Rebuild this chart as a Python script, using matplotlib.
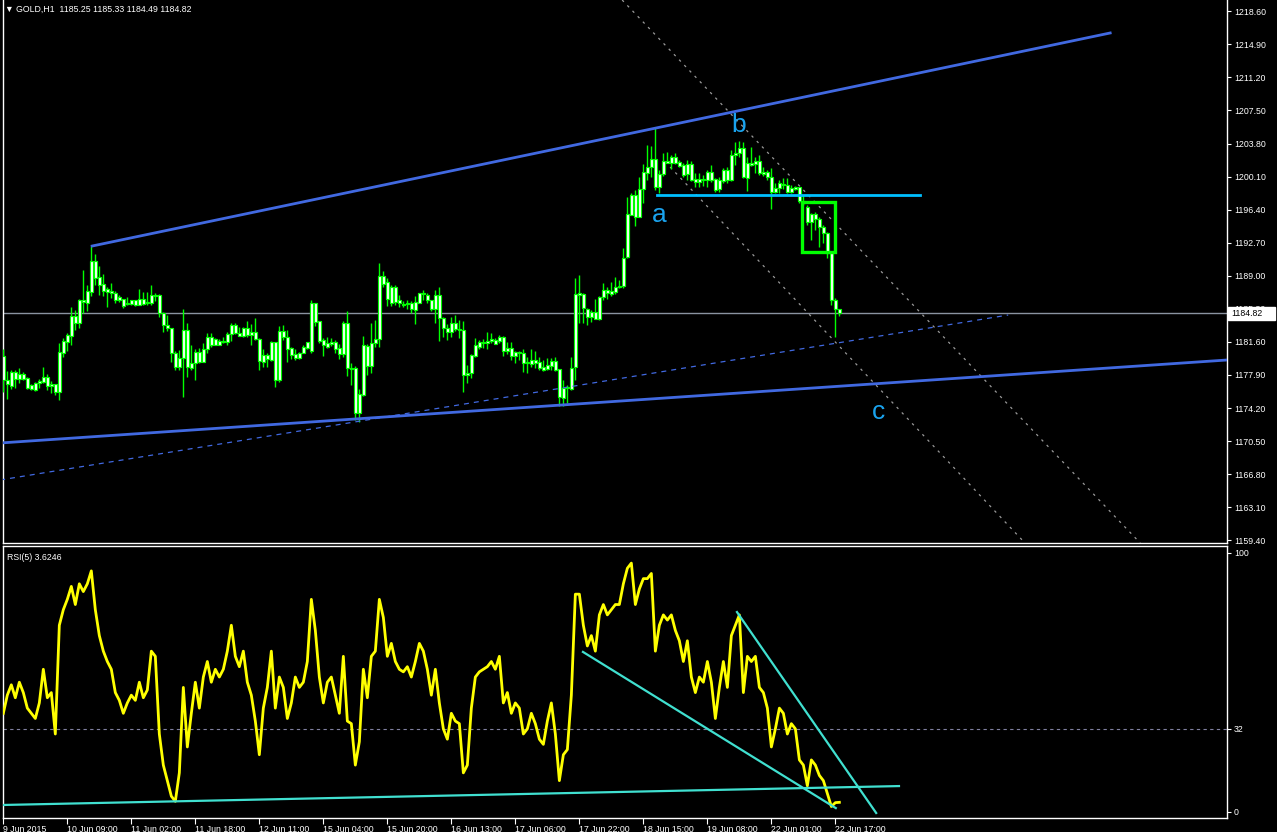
import numpy as np
import matplotlib
matplotlib.use("Agg")
import matplotlib.pyplot as plt
from matplotlib.patches import Rectangle
import matplotlib.transforms as mtransforms

plt.rcParams['font.family'] = ['Liberation Sans', 'DejaVu Sans']

# ---------------- data ----------------
opens = [
1180.02, 1177.34, 1176.67, 1178.23, 1177.45, 1178.01, 1177.56, 1176.33, 1177.00, 1177.00,
1177.12, 1177.68, 1176.67, 1176.89, 1176.00, 1180.36, 1181.59, 1182.26, 1184.50, 1183.71,
1186.29, 1185.95, 1187.18, 1190.66, 1188.87, 1188.08, 1187.52, 1187.30, 1187.07, 1186.29,
1186.40, 1185.84, 1185.84, 1186.29, 1185.73, 1186.40, 1185.95, 1185.95, 1186.85, 1186.85,
1184.83, 1183.49, 1183.15, 1180.36, 1178.79, 1179.80, 1182.93, 1178.68, 1179.24, 1180.47,
1179.35, 1180.80, 1182.15, 1181.25, 1181.70, 1181.59, 1181.59, 1182.49, 1183.49, 1182.60,
1182.26, 1183.15, 1182.37, 1182.71, 1181.92, 1179.35, 1180.13, 1179.58, 1181.59, 1177.34,
1182.82, 1182.15, 1180.92, 1180.24, 1179.80, 1180.36, 1180.92, 1180.58, 1185.95, 1183.94,
1181.81, 1181.03, 1181.36, 1181.59, 1180.92, 1180.24, 1183.71, 1178.68, 1178.68, 1173.64,
1175.66, 1181.14, 1178.91, 1181.48, 1181.92, 1188.98, 1188.30, 1185.95, 1187.75, 1186.29,
1185.84, 1185.84, 1185.95, 1185.17, 1185.95, 1187.07, 1186.85, 1186.29, 1185.28, 1186.85,
1184.27, 1183.15, 1182.71, 1183.71, 1183.04, 1182.93, 1177.90, 1178.12, 1180.02, 1181.03,
1181.48, 1181.48, 1181.70, 1181.81, 1181.70, 1182.15, 1180.58, 1180.92, 1180.02, 1180.47,
1180.36, 1179.24, 1179.13, 1179.58, 1179.35, 1178.79, 1178.57, 1178.91, 1179.46, 1178.57,
1175.33, 1176.44, 1176.33, 1178.79, 1187.07, 1186.96, 1185.28, 1184.38, 1184.94, 1184.16,
1186.63, 1187.41, 1186.96, 1187.18, 1187.75, 1187.86, 1191.10, 1195.80, 1198.04, 1195.58,
1198.71, 1200.50, 1201.17, 1202.07, 1198.93, 1200.39, 1201.84, 1201.62, 1202.29, 1201.73,
1201.40, 1200.39, 1201.51, 1199.83, 1199.49, 1199.83, 1199.72, 1200.61, 1199.83, 1198.71,
1199.61, 1200.84, 1199.72, 1202.52, 1202.74, 1203.30, 1199.94, 1201.62, 1201.51, 1201.84,
1200.61, 1200.61, 1200.05, 1198.37, 1198.82, 1199.27, 1199.16, 1198.37, 1198.93, 1198.93,
1197.37, 1196.70, 1195.02, 1195.91, 1195.35, 1194.46, 1193.79, 1191.55, 1186.29, 1185.25,
]
highs = [
1180.80, 1178.35, 1178.46, 1178.46, 1178.68, 1178.23, 1177.68, 1176.89, 1177.12, 1177.45,
1178.79, 1178.01, 1177.23, 1176.89, 1181.48, 1182.04, 1182.60, 1185.51, 1185.17, 1186.40,
1189.65, 1187.97, 1192.33, 1191.43, 1190.10, 1189.20, 1187.75, 1188.19, 1187.30, 1186.85,
1186.40, 1186.63, 1186.29, 1186.29, 1187.52, 1187.18, 1187.18, 1187.97, 1187.07, 1186.96,
1184.94, 1184.61, 1183.15, 1180.58, 1180.69, 1185.28, 1183.71, 1181.25, 1180.80, 1180.92,
1181.48, 1182.60, 1182.60, 1182.04, 1181.92, 1182.15, 1182.71, 1183.71, 1183.71, 1183.27,
1183.27, 1183.94, 1183.60, 1184.27, 1182.04, 1180.80, 1180.36, 1181.70, 1181.59, 1183.38,
1183.49, 1182.93, 1181.03, 1180.80, 1180.47, 1181.25, 1181.59, 1186.29, 1185.95, 1183.94,
1182.04, 1182.15, 1182.04, 1181.81, 1181.36, 1183.94, 1185.06, 1179.24, 1178.91, 1176.33,
1182.26, 1181.36, 1183.71, 1184.05, 1190.43, 1189.54, 1188.75, 1187.97, 1187.97, 1186.85,
1186.18, 1186.29, 1186.18, 1186.74, 1187.07, 1187.41, 1187.07, 1186.29, 1187.41, 1187.75,
1184.38, 1183.60, 1184.38, 1184.61, 1184.05, 1183.94, 1179.02, 1180.24, 1182.04, 1181.81,
1181.92, 1182.71, 1182.60, 1182.04, 1182.37, 1182.26, 1181.59, 1181.59, 1180.58, 1180.58,
1180.80, 1179.91, 1180.80, 1180.58, 1179.91, 1179.58, 1179.80, 1179.80, 1179.91, 1178.57,
1177.34, 1176.78, 1179.91, 1188.75, 1189.09, 1187.07, 1185.39, 1185.17, 1186.40, 1186.74,
1188.19, 1187.75, 1188.30, 1188.87, 1188.53, 1192.11, 1197.81, 1198.26, 1198.60, 1200.05,
1201.51, 1203.63, 1203.52, 1205.54, 1200.84, 1202.74, 1202.85, 1202.52, 1202.74, 1201.96,
1201.62, 1201.96, 1201.84, 1200.50, 1200.50, 1200.28, 1200.84, 1201.40, 1199.94, 1200.05,
1201.06, 1201.17, 1203.07, 1203.97, 1204.08, 1203.97, 1202.29, 1203.41, 1202.29, 1202.52,
1201.17, 1200.84, 1201.06, 1199.38, 1199.72, 1199.94, 1199.94, 1199.16, 1199.05, 1198.93,
1198.04, 1196.92, 1196.02, 1196.14, 1195.58, 1194.68, 1193.90, 1191.55, 1186.51, 1185.33,
]
lows = [
1176.00, 1175.21, 1176.33, 1176.44, 1177.00, 1177.34, 1176.33, 1176.22, 1176.11, 1176.44,
1177.00, 1176.22, 1175.88, 1175.66, 1175.10, 1179.91, 1180.58, 1181.25, 1182.93, 1183.15,
1184.83, 1185.06, 1186.74, 1187.97, 1186.85, 1186.74, 1185.51, 1186.51, 1185.95, 1186.06,
1185.39, 1185.73, 1185.73, 1185.62, 1185.73, 1185.73, 1185.73, 1185.73, 1186.18, 1184.38,
1182.71, 1182.82, 1179.35, 1178.46, 1178.46, 1175.44, 1177.68, 1178.46, 1177.34, 1179.24,
1179.35, 1180.36, 1181.03, 1181.25, 1181.25, 1181.48, 1181.25, 1181.70, 1182.49, 1182.26,
1182.15, 1182.15, 1181.25, 1181.81, 1178.46, 1178.79, 1178.79, 1179.46, 1176.56, 1177.12,
1181.81, 1179.35, 1179.69, 1179.58, 1179.69, 1180.36, 1180.80, 1180.36, 1183.38, 1181.48,
1180.02, 1180.92, 1181.14, 1180.36, 1179.69, 1179.91, 1177.79, 1176.78, 1172.86, 1172.64,
1175.55, 1177.90, 1178.12, 1181.03, 1181.03, 1187.75, 1185.62, 1185.62, 1185.73, 1185.51,
1185.51, 1185.28, 1184.83, 1183.60, 1185.95, 1186.29, 1185.95, 1185.06, 1183.71, 1181.70,
1182.15, 1181.81, 1182.15, 1182.82, 1182.04, 1176.00, 1177.00, 1177.56, 1179.91, 1180.80,
1180.92, 1180.80, 1181.48, 1181.36, 1181.48, 1180.02, 1180.24, 1179.58, 1179.24, 1179.58,
1178.23, 1178.12, 1178.79, 1178.68, 1178.46, 1178.35, 1178.46, 1178.46, 1178.35, 1174.43,
1174.43, 1174.76, 1176.22, 1177.34, 1183.71, 1183.71, 1183.49, 1183.82, 1184.16, 1184.05,
1186.29, 1186.40, 1186.74, 1186.96, 1187.63, 1187.63, 1190.99, 1195.80, 1194.57, 1195.58,
1197.14, 1199.72, 1200.05, 1198.60, 1198.26, 1200.17, 1201.62, 1200.95, 1201.51, 1201.17,
1200.05, 1199.72, 1199.61, 1198.93, 1198.93, 1199.05, 1198.93, 1199.49, 1198.37, 1198.37,
1199.38, 1199.38, 1199.61, 1201.40, 1202.29, 1199.94, 1198.49, 1201.28, 1200.50, 1200.28,
1200.17, 1199.72, 1196.47, 1198.26, 1198.26, 1198.71, 1198.26, 1198.26, 1198.60, 1197.14,
1196.92, 1194.68, 1193.00, 1194.12, 1192.22, 1192.67, 1190.99, 1185.73, 1182.15, 1184.49,
]
closes = [
1177.34, 1176.89, 1178.23, 1177.45, 1178.01, 1177.45, 1176.44, 1176.78, 1176.22, 1177.23,
1177.68, 1176.67, 1176.89, 1176.00, 1180.47, 1181.70, 1182.37, 1184.50, 1183.71, 1186.29,
1186.06, 1187.30, 1190.66, 1188.75, 1187.97, 1187.30, 1187.18, 1187.07, 1186.29, 1186.63,
1185.62, 1185.95, 1186.29, 1185.73, 1186.40, 1185.84, 1186.06, 1186.85, 1186.74, 1184.83,
1183.49, 1183.15, 1180.36, 1178.79, 1179.80, 1182.93, 1178.79, 1179.24, 1180.47, 1179.35,
1180.80, 1182.15, 1181.25, 1181.92, 1181.25, 1181.70, 1182.49, 1183.49, 1182.60, 1182.26,
1183.15, 1182.37, 1182.71, 1181.92, 1179.46, 1180.13, 1179.69, 1181.59, 1177.34, 1182.82,
1182.15, 1180.80, 1180.13, 1179.80, 1180.36, 1181.03, 1181.59, 1185.95, 1183.82, 1181.70,
1181.25, 1181.48, 1181.59, 1180.80, 1180.24, 1183.71, 1178.68, 1178.57, 1173.64, 1175.77,
1181.25, 1178.91, 1181.48, 1181.92, 1188.98, 1188.08, 1186.40, 1187.75, 1186.06, 1185.95,
1185.73, 1185.95, 1185.28, 1186.06, 1187.07, 1186.96, 1186.29, 1185.28, 1186.85, 1184.27,
1183.15, 1182.71, 1183.71, 1183.04, 1182.93, 1177.90, 1178.12, 1180.13, 1181.25, 1181.59,
1181.59, 1181.70, 1181.92, 1181.36, 1182.15, 1180.58, 1180.92, 1180.02, 1180.47, 1180.36,
1179.24, 1179.35, 1179.58, 1179.24, 1178.68, 1178.46, 1179.02, 1179.46, 1178.46, 1175.44,
1176.44, 1176.56, 1178.68, 1186.96, 1186.85, 1185.39, 1184.38, 1184.94, 1184.16, 1186.63,
1187.41, 1187.07, 1187.30, 1187.75, 1187.86, 1190.99, 1195.91, 1198.04, 1195.58, 1198.71,
1200.61, 1201.17, 1202.07, 1198.93, 1200.39, 1201.84, 1201.62, 1202.29, 1201.62, 1201.28,
1200.28, 1201.51, 1199.72, 1199.49, 1199.83, 1199.72, 1200.61, 1199.72, 1198.60, 1199.72,
1200.84, 1199.72, 1202.52, 1202.74, 1203.30, 1200.05, 1201.62, 1201.40, 1201.84, 1200.50,
1200.39, 1200.05, 1198.37, 1198.82, 1199.38, 1199.16, 1198.37, 1198.82, 1198.71, 1197.37,
1197.14, 1195.02, 1195.91, 1195.35, 1194.46, 1193.79, 1191.55, 1186.29, 1185.28, 1184.82,
]
rsi = [
38, 45, 49, 44, 50, 46, 40, 38, 36, 42,
55, 44, 46, 30, 72, 78, 82, 87, 80, 88,
85, 88, 93, 78, 68, 62, 58, 55, 46, 43,
38, 42, 45, 43, 50, 44, 47, 62, 60, 30,
18, 12, 6, 4, 15, 48, 25, 38, 50, 40,
52, 58, 50, 55, 52, 55, 62, 72, 60, 56,
62, 50, 45, 35, 22, 40, 48, 62, 40, 52,
48, 36, 42, 52, 48, 50, 58, 82, 70, 52,
42, 50, 52, 45, 38, 60, 35, 34, 18, 27,
55, 44, 60, 62, 82, 75, 60, 65, 58, 55,
54, 56, 52, 58, 65, 62, 55, 45, 55, 42,
32, 28, 38, 35, 34, 15, 18, 40, 52, 54,
55, 56, 58, 55, 60, 42, 46, 38, 42, 40,
30, 32, 38, 34, 28, 26, 35, 42, 30, 12,
22, 24, 45, 84, 84, 72, 64, 68, 62, 76,
80, 76, 78, 80, 80, 88, 94, 96, 80, 86,
90, 90, 92, 62, 72, 76, 74, 76, 70, 66,
58, 66, 52, 46, 52, 50, 58, 50, 36, 48,
58, 48, 68, 72, 76, 46, 60, 58, 60, 48,
46, 40, 25, 32, 40, 38, 30, 34, 32, 20,
18, 10, 20, 18, 14, 12, 7, 2, 3.5, 3.62,
]
time_labels = ["9 Jun 2015", "10 Jun 09:00", "11 Jun 02:00", "11 Jun 18:00", "12 Jun 11:00",
               "15 Jun 04:00", "15 Jun 20:00", "16 Jun 13:00", "17 Jun 06:00", "17 Jun 22:00",
               "18 Jun 15:00", "19 Jun 08:00", "22 Jun 01:00", "22 Jun 17:00"]
time_label_bars = [0, 16, 32, 48, 64, 80, 96, 112, 128, 144, 160, 176, 192, 208]
price_ticks = [1159.40, 1163.10, 1166.80, 1170.50, 1174.20, 1177.90, 1181.60, 1185.30,
               1189.00, 1192.70, 1196.40, 1200.10, 1203.80, 1207.50, 1211.20, 1214.90, 1218.60]
rsi_ticks = [0, 32, 100]
last_price = 1184.82

# drawn objects (bar index, price)
upper_channel = ([22.2, 276.7], [1192.33, 1216.17])
lower_channel = ([-0.8, 306.0], [1170.29, 1179.58])
dashed_trend = ([-0.8, 251.2], [1166.15, 1184.61])
fib_line1 = ([154.7, 284.2], [1219.86, 1159.10])
fib_line2 = ([166.7, 255.4], [1201.17, 1159.10])
hline_level = ([163.3, 229.2], [1198.04, 1198.04])
box = (199.6, 208.0, 1191.69, 1197.29)
wave_labels = [("a", 163.9, 1195.80), ("b", 183.9, 1205.87), ("c", 218.7, 1173.76)]
rsi_lines = [([144.9, 208.1], [61.7, 1.4]),
             ([183.4, 218.2], [77.1, -0.5]),
             ([0.0, 223.9], [2.6, 9.9])]

# ---------------- figure ----------------
W, H = 1277, 832
fig = plt.figure(figsize=(W / 100, H / 100), dpi=100, facecolor='black')

def axrect(x0, y0, x1, y1):
    return [x0 / W, 1 - y1 / H, (x1 - x0) / W, (y1 - y0) / H]

ax1 = fig.add_axes(axrect(3, 0, 1227, 543), facecolor='black')
ax2 = fig.add_axes(axrect(3, 546, 1227, 818), facecolor='black')

idx = np.arange(len(closes))
o = np.array(opens); c = np.array(closes)
h = np.maximum(np.array(highs), np.maximum(o, c))
l = np.minimum(np.array(lows), np.minimum(o, c))

XMIN, XMAX = -0.08, 305.9
ax1.set_xlim(XMIN, XMAX)
ax1.set_ylim(1159.10, 1219.86)
ax2.set_xlim(XMIN, XMAX)
ax2.set_ylim(-2.43, 102.6)

lime = '#00FF00'
ax1.vlines(idx, l, h, colors=lime, lw=1.0, zorder=3)
bot = np.minimum(o, c)
hei = np.maximum(np.abs(c - o), 0.03)
ax1.bar(idx, hei, bottom=bot, width=0.62, color='white', edgecolor=lime,
        linewidth=0.85, zorder=4)

# current price line
ax1.axhline(last_price, color='#8a93a0', lw=1.0, zorder=2)

# channel / trend lines
ax1.plot(*upper_channel, color='#4169E1', lw=2.0, zorder=5)
ax1.plot(*lower_channel, color='#4169E1', lw=2.0, zorder=5)
ax1.plot(*dashed_trend, color='#4169E1', lw=0.9, ls=(0, (4, 4)), zorder=5)
ax1.plot(*fib_line1, color='#9a9a9a', lw=0.9, ls=(0, (2, 4)), zorder=2)
ax1.plot(*fib_line2, color='#9a9a9a', lw=0.9, ls=(0, (2, 4)), zorder=2)
ax1.plot(*hline_level, color='#00BFFF', lw=2.0, zorder=5)
bx0, bx1, by0, by1 = box
ax1.add_patch(Rectangle((bx0, by0), bx1 - bx0, by1 - by0, fill=False,
                        edgecolor=lime, lw=2.4, zorder=6))
for txt, xi, yp in wave_labels:
    ax1.text(xi, yp, txt, color='#1AA3EE', fontsize=19, ha='center', va='center',
             zorder=7)

# price axis
ax1.yaxis.tick_right()
ax1.set_yticks(price_ticks)
ax1.set_yticklabels([f"{v:.2f}" for v in price_ticks])
ax1.tick_params(axis='y', colors='white', labelsize=6.3, length=3, width=0.8, pad=2)
ax1.set_xticks([])
for s in ax1.spines.values():
    s.set_color('white'); s.set_linewidth(1.0)
ax1.spines['top'].set_visible(False)

# current price marker box on the price scale
trans = mtransforms.blended_transform_factory(ax1.transAxes, ax1.transData)
ax1.add_patch(Rectangle((1.0008, 1184.05), 0.0384, 1.46, transform=trans,
                        facecolor='white', edgecolor='white', clip_on=False, zorder=20))
ax1.text(1.0035, last_price, f"{last_price:.2f}", transform=trans, color='black',
         fontsize=6.3, ha='left', va='center', zorder=21, clip_on=False)

# RSI pane
ax2.plot(idx, rsi, color='#FFFF00', lw=2.0, zorder=4)
ax2.axhline(32, color='#8080a0', lw=0.8, ls=(0, (3, 3)), zorder=2)
for xs, ys in rsi_lines:
    ax2.plot(xs, ys, color='#40E0D0', lw=1.6, zorder=5)
ax2.yaxis.tick_right()
ax2.set_yticks(rsi_ticks)
ax2.set_yticklabels([str(v) for v in rsi_ticks])
ax2.tick_params(axis='y', colors='white', labelsize=6.3, length=3, width=0.8, pad=2)
ax2.set_xticks(time_label_bars)
ax2.set_xticklabels(time_labels)
ax2.tick_params(axis='x', colors='white', labelsize=6.3, length=4, width=0.8, pad=1)
for lab in ax2.get_xticklabels():
    lab.set_horizontalalignment('left')
for s in ax2.spines.values():
    s.set_color('white'); s.set_linewidth(1.0)
ax2.text(0.003, 0.975, "RSI(5) 3.6246", transform=ax2.transAxes, color='white',
         fontsize=6.3, ha='left', va='top')

fig.text(5 / W, 1 - 9 / H, "\u25BC GOLD,H1  1185.25 1185.33 1184.49 1184.82",
         color='white', fontsize=6.3, ha='left', va='center',
         family=['Liberation Sans', 'DejaVu Sans'])

fig.savefig("out.png", dpi=100, facecolor='black')
